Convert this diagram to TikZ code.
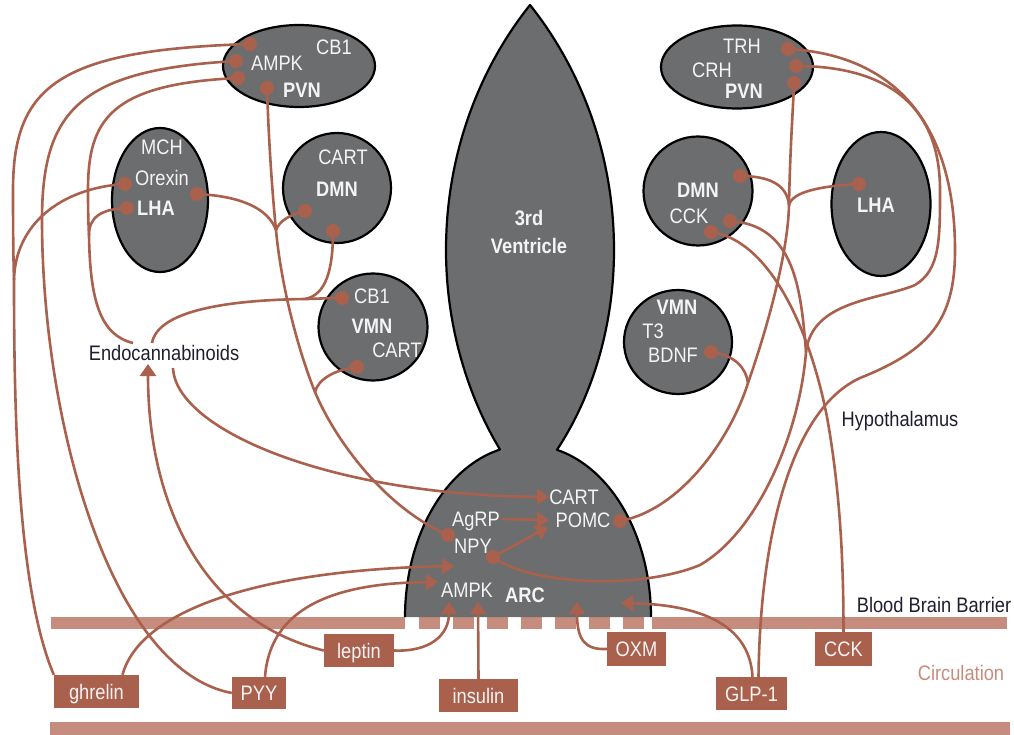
\documentclass[tikz,border=0pt]{standalone}
\usepackage{fontspec}
\setmainfont[FakeStretch=0.87]{Liberation Sans}
\usetikzlibrary{shapes.geometric,arrows.meta}
\definecolor{rust}{HTML}{A9604C}
\definecolor{bandc}{HTML}{C68C7D}
\definecolor{nucgray}{HTML}{6C6D6F}
\definecolor{txtdark}{HTML}{1E1E30}
\definecolor{nuctext}{HTML}{F4F4F4}
\begin{document}
\begin{tikzpicture}[x=1pt,y=-1pt,
  font=\fontsize{21}{24}\selectfont,
  line join=round,
  nuc/.style={ellipse, draw=black, line width=2.2pt, fill=nucgray, inner sep=0pt},
  pdot/.style={circle, fill=rust, inner sep=0pt, minimum size=14pt},
  conn/.style={draw=rust, line width=2.6pt},
  arr/.style={conn, -{Triangle[length=12pt,width=16pt]}},
  lab/.style={text=nuctext, inner sep=0pt, text height=15pt, text depth=0pt},
  blab/.style={lab, font=\fontsize{21}{24}\selectfont\bfseries},
  otext/.style={text=txtdark, inner sep=0pt, text height=15pt, text depth=0pt},
  hbox/.style={fill=rust, text=nuctext, inner sep=0pt, text height=15pt, text depth=0pt},
]
\useasboundingbox (0,0) rectangle (1014,735);

% barriers
\fill[bandc] (51,617) rectangle (405,629);
\fill[bandc] (652,617) rectangle (1007,629);
\foreach \k in {0,...,6} \fill[bandc] ({419+34*\k},617) rectangle ({440+34*\k},629);
\fill[bandc] (50,722) rectangle (1010,735);

% third ventricle + arcuate nucleus
\draw[line width=2.2pt, fill=nucgray]
  plot[domain=180:103.16,samples=40] ({528+123*cos(\x)},{617-172*sin(\x)})
  .. controls (470,400) and (446,330) .. (446,250)
  .. controls (446,150) and (482,65) .. (530,5)
  .. controls (578,65) and (614,150) .. (614,250)
  .. controls (614,330) and (590,400) .. (557,449.8)
  -- plot[domain=76.36:0,samples=40] ({528+123*cos(\x)},{617-172*sin(\x)});
\node[blab] (v3a) at (529,218) {3rd};
\node[blab] (v3b) at (529,246) {Ventricle};

% nuclei
\node[nuc, minimum width=152pt, minimum height=82pt] (pvnL) at (299,66) {};
\node[nuc, minimum width=96pt, minimum height=144pt] (lhaL) at (160,200) {};
\node[nuc, minimum width=108pt, minimum height=110pt] (dmnL) at (337,188) {};
\node[nuc, minimum width=109pt, minimum height=107pt] (vmnL) at (373,327) {};
\node[nuc, minimum width=152pt, minimum height=83pt] (pvnR) at (737,67) {};
\node[nuc, minimum width=109pt, minimum height=109pt] (dmnR) at (698,191) {};
\node[nuc, minimum width=99pt, minimum height=144pt] (lhaR) at (881,204) {};
\node[nuc, minimum width=108pt, minimum height=104pt] (vmnR) at (678,342) {};

% labels in nuclei
\node[lab] (tpl1) at (334,47) {CB1};
\node[lab] (tpl2) at (277,63) {AMPK};
\node[blab] (tpl3) at (302,90) {PVN};
\node[lab] (tll1) at (162,147) {MCH};
\node[lab] (tll2) at (162,178) {Orexin};
\node[blab] (tll3) at (156,208) {LHA};
\node[lab] (tdl1) at (343,157) {CART};
\node[blab] (tdl2) at (337,189) {DMN};
\node[lab] (tvl1) at (372,296) {CB1};
\node[blab] (tvl2) at (372,326) {VMN};
\node[lab] (tvl3) at (397,350) {CART};
\node[lab] (tpr1) at (742,46) {TRH};
\node[lab] (tpr2) at (712,70) {CRH};
\node[blab] (tpr3) at (744,91) {PVN};
\node[blab] (tdr1) at (698,190) {DMN};
\node[lab] (tdr2) at (689,216) {CCK};
\node[blab] (tlr1) at (876,205) {LHA};
\node[blab] (tvr1) at (677,307) {VMN};
\node[lab] (tvr2) at (653,331) {T3};
\node[lab] (tvr3) at (673,355) {BDNF};
\node[lab] (tac1) at (574,497) {CART};
\node[lab] (tac2) at (583,520) {POMC};
\node[lab] (tac3) at (476,519) {AgRP};
\node[lab] (tac4) at (473,546) {NPY};
\node[lab] (tac5) at (467,590) {AMPK};
\node[blab] (tac6) at (525,595) {ARC};

% outside texts
\node[otext] (endo) at (164,353) {Endocannabinoids};
\node[otext] (hypo) at (900,419) {Hypothalamus};
\node[otext] (bbbt) at (934,605) {Blood Brain Barrier};
\node[otext, text=bandc] (circ) at (961,673) {Circulation};

% hormone boxes
\node[hbox, minimum width=85pt, minimum height=33pt] (ghrelin) at (96.5,691.5) {ghrelin};
\node[hbox, minimum width=54pt, minimum height=32pt] (pyy) at (259,693) {PYY};
\node[hbox, minimum width=70pt, minimum height=33pt] (leptin) at (359,650.5) {leptin};
\node[hbox, minimum width=79pt, minimum height=33pt] (insulin) at (478.5,695.5) {insulin};
\node[hbox, minimum width=59pt, minimum height=34pt] (oxm) at (636.5,649) {OXM};
\node[hbox, minimum width=71pt, minimum height=33pt] (glp) at (751.5,693.5) {GLP-1};
\node[hbox, minimum width=57pt, minimum height=34pt] (cck) at (843.5,649) {CCK};

% dots
\node[pdot] (d1) at (250,44) {};
\node[pdot] (d2) at (236,61) {};
\node[pdot] (d3) at (238,78) {};
\node[pdot] (d4) at (267,88) {};
\node[pdot] (dOx) at (125,184) {};
\node[pdot] (dLha) at (127,208) {};
\node[pdot] (dLr) at (197,194) {};
\node[pdot] (dDa) at (305,211) {};
\node[pdot] (dDb) at (333,231) {};
\node[pdot] (dCB) at (342,298) {};
\node[pdot] (dCa) at (357,367) {};
\node[pdot] (dTrh) at (788,49) {};
\node[pdot] (dCrh) at (796,66) {};
\node[pdot] (dPr) at (794,83) {};
\node[pdot] (dDr) at (740,176) {};
\node[pdot] (dCk1) at (730,221) {};
\node[pdot] (dCk2) at (711,232) {};
\node[pdot] (dLhr) at (859,184) {};
\node[pdot] (dBd) at (711,352) {};
\node[pdot] (dNpyL) at (448,535) {};
\node[pdot] (dNpy) at (493,557) {};
\node[pdot] (dPomc) at (620,521) {};

% junctions and arrow targets
\coordinate (jA) at (14,280);
\coordinate (jC) at (89,235);
\coordinate (jD) at (276,230);
\coordinate (jD2) at (315,392);
\coordinate (jE) at (305,299);
\coordinate (jN) at (806,352);
\coordinate (jR1) at (748,383);
\coordinate (jR2) at (789,205);
\coordinate (eTopL) at (133,343);
\coordinate (eTopR) at (152,343);
\coordinate (eBotA) at (148,364);
\coordinate (eBotF) at (173,368);
\coordinate (cartTip) at (549,497);
\coordinate (pomcTipA) at (549,520);
\coordinate (pomcTipB) at (548,527);
\coordinate (npyTip) at (454,566);
\coordinate (ampkTipL) at (438,582);
\coordinate (ampkTip1) at (449,602);
\coordinate (ampkTip2) at (478,602);
\coordinate (oxmTip) at (577,602);
\coordinate (glpTip) at (621,603);

% left-side connectors
\draw[conn] (d1.center) .. controls (60,50) and (13,85) .. (13,190)
  .. controls (13,240) and (13.5,262) .. (jA)
  .. controls (14,420) and (18,590) .. (ghrelin.north west);
\draw[conn] (dOx.center) .. controls (60,188) and (15,225) .. (jA);
\draw[conn] (d2.center) .. controls (80,70) and (42,110) .. (42,220)
  .. controls (42,420) and (110,670) .. (pyy.west);
\draw[conn] (d3.center) .. controls (110,84) and (88,120) .. (88,190)
  .. controls (88,215) and (88.5,225) .. (jC)
  .. controls (90,300) and (100,335) .. (eTopL);
\draw[conn] (dLha.center) .. controls (100,209) and (89,218) .. (jC);
\draw[conn] (d4.center) .. controls (269,150) and (273,200) .. (jD)
  .. controls (281,285) and (298,350) .. (jD2)
  .. controls (335,440) and (385,508) .. (dNpyL.center);
\draw[conn] (dLr.center) .. controls (240,196) and (268,208) .. (jD);
\draw[conn] (dDa.center) .. controls (288,215) and (279,222) .. (jD);
\draw[conn] (dCa.center) .. controls (333,370) and (318,380) .. (jD2);
\draw[conn] (dCB.center) .. controls (325,298) and (315,299) .. (jE)
  .. controls (230,300) and (158,310) .. (eTopR);
\draw[conn] (dDb.center) .. controls (333,270) and (326,295) .. (jE);
\draw[arr] (eBotF) .. controls (176,430) and (330,495) .. (cartTip);
\draw[arr] (leptin.west) .. controls (200,620) and (148,500) .. (eBotA);
\draw[arr] ([xshift=26pt]ghrelin.north) .. controls (140,610) and (260,570) .. (npyTip);
\draw[arr] ([xshift=6pt]pyy.north) .. controls (270,610) and (330,583) .. (ampkTipL);
\draw[arr] (leptin.east) .. controls (430,652) and (449,635) .. (ampkTip1);
\draw[arr] (insulin.north) -- (ampkTip2);
\draw[arr] (oxm.west) .. controls (585,650) and (577,640) .. (oxmTip);
\draw[arr] ([xshift=1pt]glp.north) .. controls (750,630) and (710,605) .. (glpTip);

% arcuate internal arrows
\draw[arr] ([xshift=2pt]tac3.east) -- (pomcTipA);
\draw[arr] (dNpy.center) -- (pomcTipB);

% right-side connectors
\draw[conn] (dNpy.center) .. controls (530,585) and (640,590) .. (700,565)
  .. controls (760,530) and (800,430) .. (jN)
  .. controls (812,300) and (880,300) .. (915,285)
  .. controls (940,270) and (940,240) .. (940,190)
  .. controls (940,100) and (880,66) .. (dCrh.center);
\draw[conn] (dCk1.center) .. controls (795,225) and (801,290) .. (jN);
\draw[conn] (dCk2.center) .. controls (770,240) and (810,330) .. (827,417)
  .. controls (840,490) and (843.5,560) .. (cck.north);
\draw[conn] (dPomc.center) .. controls (680,510) and (730,440) .. (jR1)
  .. controls (770,320) and (788,250) .. (jR2)
  .. controls (790,150) and (793,110) .. (dPr.center);
\draw[conn] (dDr.center) .. controls (770,176) and (787,185) .. (jR2);
\draw[conn] (dLhr.center) .. controls (820,186) and (792,192) .. (jR2);
\draw[conn] (dBd.center) .. controls (735,355) and (746,368) .. (jR1);
\draw[conn] ([xshift=7pt]glp.north) .. controls (760,540) and (790,410) .. (860,378)
  .. controls (930,350) and (955,320) .. (955,250)
  .. controls (955,130) and (900,55) .. (dTrh.center);
\end{tikzpicture}
\end{document}
